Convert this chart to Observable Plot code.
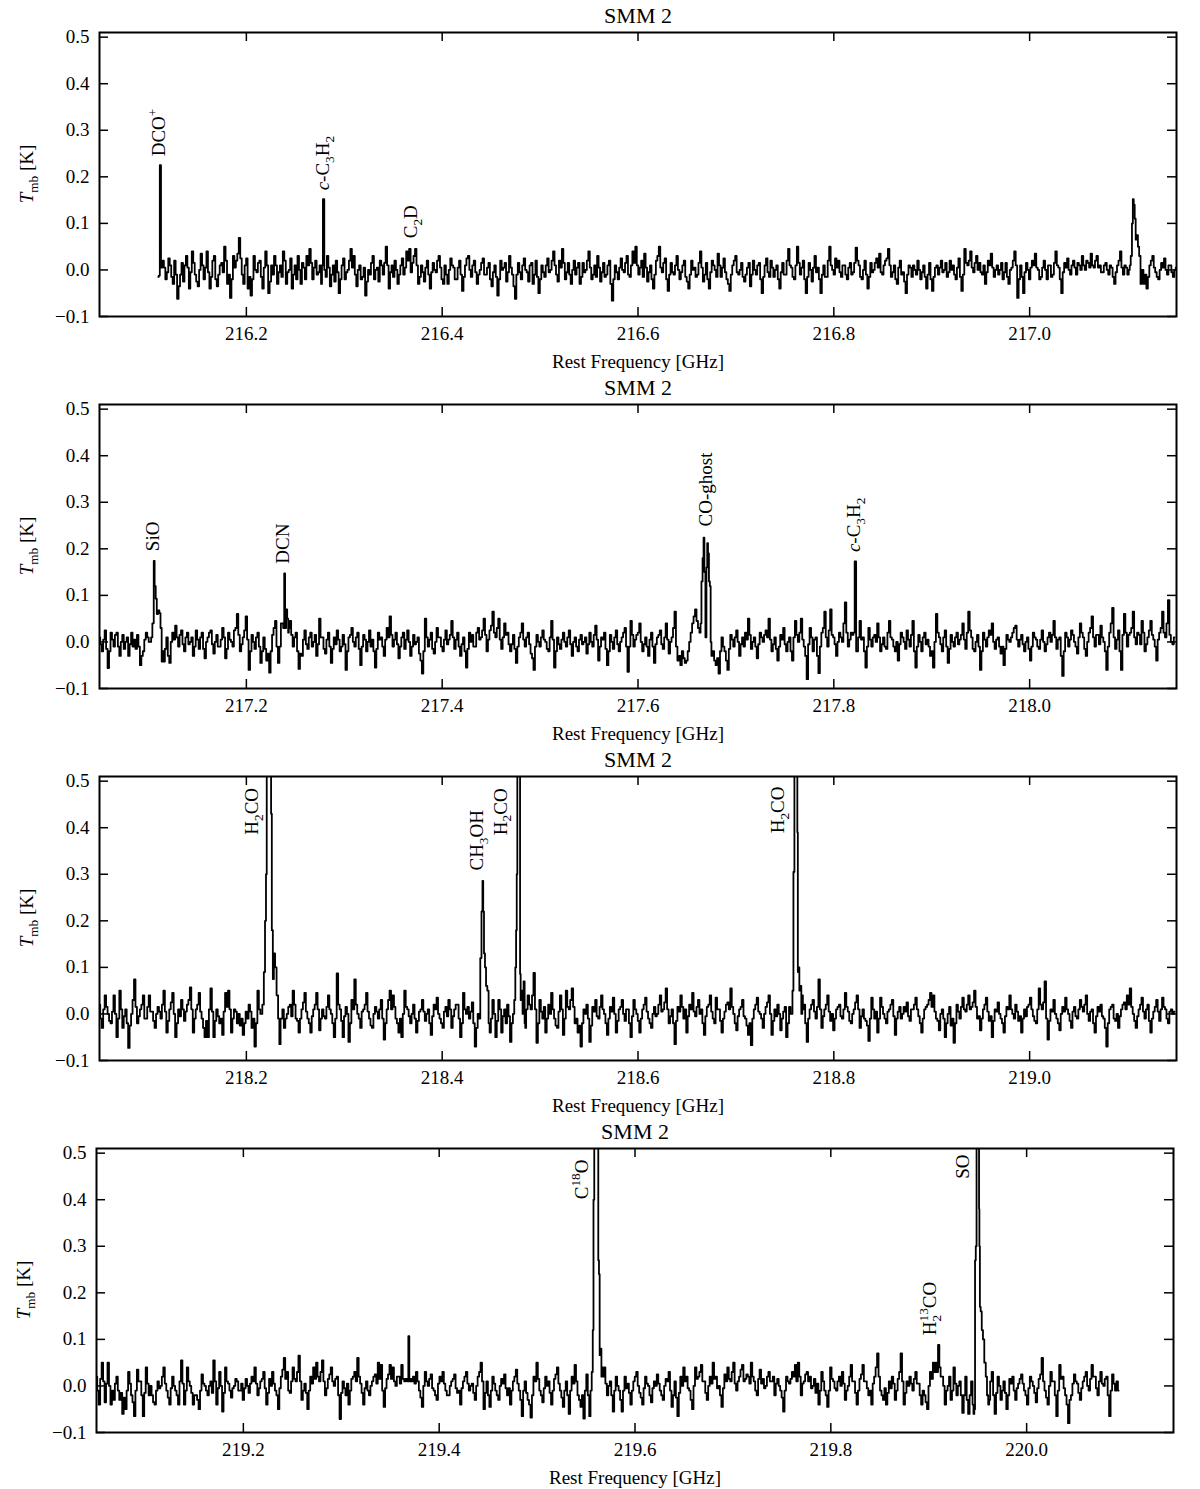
<!DOCTYPE html>
<html><head><meta charset="utf-8">
<script src="https://cdn.jsdelivr.net/npm/d3@7"></script>
<script src="https://cdn.jsdelivr.net/npm/@observablehq/plot@0.6"></script>
<style>body{margin:0;background:#fff}#chart svg{display:block}</style>
</head><body><div id="chart"></div>
<script>
// ---------------- data ----------------
const STEP = 0.0015; // channel width of the stored baseline spectrum [GHz]
const titleText = "SMM 2";
const xLabelText = "Rest Frequency [GHz]";
const yLabelText = "$T$_{mb} [K]";
const yTicks = [-0.1, 0.0, 0.1, 0.2, 0.3, 0.4, 0.5];

// Panel 1 (216.05 - 217.15 GHz)
const p1Domain = [216.05, 217.15];
const p1Ticks = [216.2, 216.4, 216.6, 216.8, 217.0];
const p1Start = 216.115;
const p1Values = [ // mK, one per channel
20,5,-20,-5,25,10,-15,-30,20,-10,-62,-35,-10,15,-25,10,30,5,-40,-5,
40,15,-10,-25,-35,0,35,10,-20,5,40,-5,-40,-15,20,30,-20,-35,-10,10,
15,-5,50,20,-30,-10,-60,-20,30,5,20,35,69,25,-10,-30,10,25,-40,-15,
-55,-20,30,0,-5,15,20,-15,-40,5,40,10,-50,-25,10,-10,30,10,-30,-5,
10,-15,40,20,-30,-5,0,25,-40,-10,10,-20,30,0,-30,15,5,-20,30,10,
45,15,-20,5,20,-10,-5,10,-30,-10,0,-15,30,5,-35,-10,10,-25,20,-5,
-50,-20,10,25,-20,-5,0,20,45,5,30,-10,-35,0,10,-20,-15,5,-55,-25,
0,-10,15,30,-20,0,5,-25,20,10,-10,15,50,10,-40,-5,10,-15,20,0,
-30,-10,10,25,-10,5,40,20,45,-5,15,30,45,10,-30,-15,10,-5,-25,5,
20,-10,-40,-5,15,0,-5,20,30,5,-20,-30,10,-10,-30,0,25,10,5,-20,
-20,5,20,-10,-45,-15,10,25,30,0,-15,10,20,-5,-30,-10,0,15,25,-10,
-10,5,15,-20,-35,-5,10,-15,-55,-20,20,0,5,15,-25,-5,30,5,-10,-35,
-62,-10,15,-5,-20,10,25,0,-5,-25,10,15,-30,-10,20,-15,-50,-20,10,-5,
-15,10,25,-5,0,20,40,10,-10,-25,20,5,45,15,-20,-5,15,-10,-30,0,
20,-10,5,15,-30,-15,15,-5,0,20,40,5,-20,-10,10,-15,30,5,-25,-5,
15,-15,-10,10,20,-30,-66,-20,10,-5,-20,5,25,0,-5,15,30,-10,-15,10,
40,15,50,10,-10,5,20,-15,35,5,-25,-5,10,-20,-40,-10,20,30,50,5,
-5,15,25,-20,-45,-10,15,-5,-10,10,30,0,-20,-5,10,20,-15,-25,-40,-10,
20,0,5,-15,-10,15,40,5,-25,-10,15,-20,-40,-5,20,10,0,-15,35,10,
-15,5,25,-5,-20,-30,-45,-10,10,20,30,-5,-10,0,15,-15,-25,-10,5,15,
-35,-10,20,0,-10,10,15,-20,-50,-15,10,25,-5,-15,20,5,-15,0,10,-20,
-40,-5,15,-10,-10,20,45,10,5,-15,-20,10,50,15,-10,5,20,-20,-50,-15,
15,0,-25,5,30,-5,5,-20,-50,-10,10,-15,-15,20,50,10,0,-10,25,5,
20,-5,-15,10,10,-10,-20,5,15,-10,-5,15,48,20,10,-15,-20,0,20,-10,
-40,-15,15,-5,0,15,25,5,35,-5,-10,10,20,25,45,10,-15,-5,10,-20,
-30,5,20,-10,-5,-25,-50,-10,10,5,-15,10,0,-10,20,0,-20,-5,10,-15,
-40,-10,15,-20,-45,-15,5,10,-10,5,20,-5,0,15,-15,-5,20,0,10,-10,
-20,5,25,-15,-45,-10,45,15,10,20,40,5,-5,15,30,0,15,-5,-10,10,
-30,-5,20,10,35,5,-15,0,10,-10,0,15,-20,-5,15,-15,-30,0,5,20,
40,10,-60,-20,10,-15,-50,-5,15,0,-20,5,20,10,35,5,0,-20,-15,5,
20,0,-20,10,10,-15,-10,15,40,10,5,-20,-50,-5,15,5,25,0,-10,10,
20,5,-10,15,10,0,30,10,0,20,15,5,35,10,5,20,30,5,10,-5,
-5,10,15,0,-10,10,5,-15,-30,-5,10,20,40,5,-10,10,5,-10,0,5,
0,0,0,0,0,0,0,0,-30,-10,-40,-15,10,20,30,5,-5,-15,-20,0,
15,5,25,0,-10,10,10,-5,-15,0,5];
const p1Lines = [ // resolved emission lines [GHz, K]
  [[216.1100,-0.015],[216.1110,-0.012],[216.1122,0.225],[216.1134,0.005]],
  [[216.2775,0.010],[216.2789,0.152],[216.2803,0.000]],
  [[217.1025,0.010],[217.1040,0.030],[217.1050,0.100],[217.1058,0.152],[217.1068,0.140],[217.1078,0.110],[217.1088,0.065],[217.1100,0.075],[217.1112,0.050],[217.1125,0.030],[217.1140,-0.030],[217.1150,0.000]]
];
const p1LabelText = ["DCO^+", "$c$-C_3H_2", "C_2D"];
const p1LabelFreq = [216.1102, 216.2781, 216.3684];
const p1LabelT = [0.244, 0.171, 0.068];

// Panel 2 (217.05 - 218.15 GHz)
const p2Domain = [217.05, 218.15];
const p2Ticks = [217.2, 217.4, 217.6, 217.8, 218.0];
const p2Start = 217.05;
const p2Values = [
10,-5,-20,5,25,-15,-56,-20,20,5,-10,15,20,-10,-30,0,15,-15,0,10,
-30,-5,20,-10,5,-15,15,-10,-50,-30,-20,5,20,10,0,0,0,0,0,0,
0,0,0,-30,-42,-15,10,-30,-45,0,20,5,35,10,-10,15,25,-5,-20,10,
20,-5,0,10,-30,-10,25,5,-15,10,20,-15,-35,0,10,20,25,-5,-25,0,
15,-10,-10,5,30,10,-35,-15,20,5,0,-10,25,30,60,15,-20,-5,10,25,
55,5,-60,-20,15,0,-15,10,20,-10,-45,-20,10,-15,-40,-25,-66,-20,15,30,
45,-10,-45,-10,40,30,0,0,0,30,45,15,-10,10,20,-20,-58,-25,-30,5,
25,-5,-15,10,20,-10,0,15,-30,-5,50,10,10,-15,-25,5,20,-10,-45,-15,
10,-5,25,5,-20,-10,15,-5,-60,-20,10,15,30,0,-10,10,20,-15,-50,-10,
15,5,-20,0,25,-10,5,-20,-55,-15,20,5,10,-10,-30,5,30,10,55,15,
-10,5,20,-5,-35,-10,10,20,-15,5,25,0,-30,-10,15,-5,0,10,-25,-40,
-68,-20,50,10,-10,5,20,-15,-25,0,30,10,10,-10,-20,5,25,-5,5,15,
45,10,-15,5,20,-10,-30,-5,10,-20,-55,-15,20,0,15,-10,-10,20,30,5,
10,25,50,15,-20,5,25,35,65,20,10,30,50,5,-15,10,40,15,20,-5,
-20,-5,15,-15,-45,-10,10,20,40,5,-10,10,20,-5,-25,-35,-60,-10,15,0,
-10,10,25,5,0,-15,-20,10,45,5,-55,-20,10,-5,-15,5,20,0,-10,10,
25,-5,-30,0,10,-10,-20,5,15,-5,0,10,-25,-5,20,0,-10,15,35,5,
-40,-10,10,5,20,-15,-50,-20,15,0,-15,10,25,-5,-20,0,10,20,30,-10,
-64,-10,45,15,-10,5,15,20,40,0,-20,-5,10,-10,-30,5,20,-10,-45,-5,
10,15,25,-5,-15,10,40,5,-25,0,10,30,65,-10,-40,-30,-50,-20,-35,-45,
-40,-20,0,20,40,55,70,45,30,20,0,0,0,0,0,0,0,-30,-20,-40,
-50,-35,-68,-20,10,-10,-20,-40,-60,-15,15,5,-10,10,25,0,-30,-5,10,-10,
20,5,50,15,-15,0,10,-10,-35,-5,20,10,0,15,25,10,50,5,-20,-5,
10,-15,-40,-10,15,5,30,-5,-20,0,10,-20,-40,10,45,15,0,20,50,5,
-10,-30,-80,-5,30,10,-20,5,10,-30,-67,-10,20,30,65,10,-10,25,70,15,
10,-5,-30,0,20,10,0,40,85,20,-10,5,20,15,0,0,-20,10,45,5,
10,-20,-55,-10,30,5,-10,10,15,0,40,10,-20,-5,10,-10,-15,20,45,10,
5,-10,-20,0,-40,-5,20,10,0,-15,25,5,-10,15,45,-20,-55,-10,15,0,
-20,10,20,-5,5,-10,-30,-20,-55,0,60,20,10,-5,-20,10,25,-10,-45,-15,
15,0,-10,10,20,-5,5,15,40,5,-15,20,65,25,10,-15,-20,0,15,-10,
-60,-20,20,5,-10,10,25,15,40,0,-15,5,10,-10,-25,-10,-50,-15,15,5,
0,10,20,30,35,5,-10,5,15,-5,-20,0,10,-15,-40,-10,20,10,5,-10,
-15,5,25,0,-20,-5,10,20,0,15,45,10,-15,5,10,-30,-73,-20,20,10,
-10,5,25,15,0,-10,-25,10,40,20,10,-15,-30,0,20,30,55,10,-10,15,
15,-5,35,10,0,-20,-60,-10,20,40,73,10,-15,5,25,-20,-60,15,60,20,
-10,15,20,30,65,10,-5,20,15,-5,45,20,-20,-5,10,25,45,15,5,-10,
-40,5,20,30,65,20,10,40,90,15,0,-5,10];
const p2Lines = [
  [[217.1030,0.010],[217.1050,0.040],[217.1058,0.174],[217.1068,0.120],[217.1080,0.093],[217.1090,0.060],[217.1105,0.068],[217.1118,0.062],[217.1128,0.030],[217.1142,-0.042],[217.1155,-0.020]],
  [[217.2370,0.040],[217.2382,0.030],[217.2391,0.147],[217.2400,0.030],[217.2412,0.070],[217.2422,0.050],[217.2432,0.020]],
  [[217.6643,0.040],[217.6653,0.130],[217.6666,0.180],[217.6673,0.224],[217.6683,0.150],[217.6694,0.010],[217.6704,0.160],[217.6710,0.212],[217.6720,0.190],[217.6729,0.130],[217.6739,0.120],[217.6745,0.000]],
  [[217.8205,0.020],[217.8221,0.173],[217.8235,-0.020]]
];
const p2LabelText = ["SiO", "DCN", "CO-ghost", "$c$-C_3H_2"];
const p2LabelFreq = [217.1041, 217.2372, 217.6694, 217.8204];
const p2LabelT = [0.195, 0.168, 0.248, 0.193];

// Panel 3 (218.05 - 219.15 GHz)
const p3Domain = [218.05, 219.15];
const p3Ticks = [218.2, 218.4, 218.6, 218.8, 219.0];
const p3Start = 218.05;
const p3Values = [
20,-10,-30,10,40,15,0,-15,-20,5,40,0,-50,-10,50,10,-30,-5,10,-20,
-73,-25,0,30,74,15,-20,-5,10,20,40,-10,-10,15,40,5,5,-15,-30,0,
15,5,-10,20,50,5,-40,-15,10,25,45,0,-50,-20,10,-5,30,10,-15,5,
20,30,57,10,-40,-10,10,20,45,5,-10,-30,-50,-15,-50,10,55,5,-50,-15,
10,-5,-20,-10,-45,5,45,15,50,10,-40,-10,10,5,-20,0,-25,-10,-45,-20,
5,-10,20,5,-30,-10,-70,-20,50,10,0,0,0,0,0,0,0,0,0,0,
0,0,0,0,-10,10,-30,-10,0,15,20,-5,50,20,-10,-15,-40,-10,10,25,
45,5,-10,-20,-40,-5,10,20,45,10,-35,-10,10,-5,-10,15,40,10,0,-20,
-50,-10,87,20,10,-15,-50,-5,15,0,-60,-20,30,10,74,20,0,-10,-30,5,
10,20,45,5,-10,-25,-30,0,15,5,-10,10,30,-10,-55,-20,10,30,50,10,
40,15,-10,-20,-40,-10,-50,0,50,15,10,-5,-20,0,20,-10,-40,-15,5,10,
30,5,-15,0,10,-20,-45,-5,20,10,35,0,-10,-20,-30,5,15,-5,30,10,
-30,-5,10,20,20,-10,-50,-20,45,10,0,15,-10,5,25,-20,-70,-30,0,0,
0,0,0,0,0,0,-40,-10,30,0,-50,-15,30,10,-40,-5,10,-20,20,-5,
-60,-20,0,0,0,0,0,0,0,0,-30,10,40,20,10,40,88,10,-62,-20,
30,5,-10,15,-40,-10,20,0,45,10,-10,-25,-30,5,40,10,-45,-10,50,15,
10,30,55,15,-20,-10,-40,-25,-70,-20,10,0,20,-10,-60,-25,15,5,30,-5,
-10,15,40,10,0,-20,-45,-10,15,5,35,0,-40,-15,10,15,30,0,-15,10,
10,-20,-50,-5,30,10,0,-15,-40,-10,10,20,35,5,-10,-20,-30,0,15,-5,
0,20,40,5,10,25,55,10,-20,-5,10,-20,-65,-15,15,5,40,15,-10,10,
-40,-5,20,10,45,5,-5,15,30,0,10,-20,-45,-5,15,20,40,5,-10,-20,
35,10,10,-15,-40,-10,5,20,25,10,55,15,0,-20,-35,-5,10,15,30,-5,
-10,-25,-45,-20,-67,-10,10,20,35,5,0,-10,-30,0,15,25,40,0,-45,-15,
10,-5,20,0,-35,-10,5,15,-50,-20,15,0,0,0,0,0,0,0,0,10,
20,-20,-60,-10,10,20,30,5,-10,15,74,10,-30,-5,10,20,40,5,-15,0,
-35,-10,10,15,20,-5,-10,10,45,15,5,-15,-20,0,10,25,40,10,-30,-5,
10,-10,-15,-25,-58,-10,35,10,-10,5,-40,-10,35,15,0,-10,-20,5,10,20,
30,-5,-45,-10,5,15,-10,0,15,5,25,-5,-15,10,10,20,35,10,-5,-20,
-40,-10,10,15,20,30,45,15,40,5,-10,-15,-35,0,10,-10,-50,-20,0,15,
-25,-10,-62,-20,20,5,-10,15,35,10,5,20,40,10,15,25,50,15,-10,-5,
-35,-10,10,20,35,5,-15,-5,-50,-15,10,5,25,0,-10,-20,-40,-5,15,10,
40,10,0,-10,20,5,-15,-5,-40,-10,10,-5,15,20,35,10,-5,-15,-20,10,
55,20,10,25,70,-10,-55,-15,10,5,30,0,-10,-20,-35,0,15,5,35,10,
0,-15,-30,5,15,-5,-10,10,30,15,5,20,40,0,-15,5,10,-20,-40,-5,
15,5,20,-5,-10,-30,-70,-20,10,15,20,-10,-15,0,-30,-5,10,20,25,10,
40,20,55,15,0,-15,-30,-5,10,20,35,5,-10,10,20,-15,-40,-10,5,15,
30,5,-15,10,35,15,10,-10,-20,5,10,0,5];
const p3Lines = [
  [[218.2153,0.000],[218.2173,0.020],[218.2184,0.090],[218.2197,0.200],[218.2204,0.300],[218.2212,0.650],[218.2224,0.900],[218.2240,0.850],[218.2250,0.600],[218.2255,0.430],[218.2265,0.180],[218.2276,0.075],[218.2286,0.130],[218.2301,0.100],[218.2316,0.040],[218.2332,-0.010],[218.2342,-0.065],[218.2357,-0.010]],
  [[218.4383,-0.010],[218.4395,0.120],[218.4408,0.220],[218.4415,0.286],[218.4423,0.220],[218.4431,0.130],[218.4443,0.100],[218.4453,0.060],[218.4469,0.050],[218.4479,-0.020]],
  [[218.4730,0.000],[218.4742,0.030],[218.4752,0.100],[218.4758,0.180],[218.4765,0.300],[218.4770,0.600],[218.4778,1.200],[218.4787,0.800],[218.4793,0.550],[218.4798,0.086],[218.4805,0.030],[218.4816,0.050],[218.4826,0.000],[218.4837,0.070],[218.4847,-0.020]],
  [[218.7571,0.000],[218.7584,0.050],[218.7591,0.305],[218.7604,0.800],[218.7617,1.100],[218.7625,0.900],[218.7630,0.390],[218.7635,0.090],[218.7643,0.100],[218.7653,0.050],[218.7663,0.060],[218.7673,0.000],[218.7683,0.040]]
];
const p3LabelText = ["H_2CO", "CH_3OH", "H_2CO", "H_2CO"];
const p3LabelFreq = [218.2058, 218.4354, 218.4597, 218.7434];
const p3LabelT = [0.385, 0.308, 0.384, 0.388];

// Panel 4 (219.05 - 220.15 GHz)
const p4Domain = [219.05, 220.15];
const p4Ticks = [219.2, 219.4, 219.6, 219.8, 220.0];
const p4Start = 219.05;
const p4Values = [
20,-10,-40,15,50,10,-35,5,50,0,-40,-10,-30,5,20,-10,-30,-15,-60,-25,
-50,-10,30,5,-20,-35,-65,-10,35,10,10,-20,-65,-15,40,5,-20,0,-20,-35,
-40,-10,10,-5,0,20,40,5,-10,-25,-40,-5,20,0,-10,-20,-40,10,55,5,
-40,-10,40,10,0,-15,-40,-20,-20,-30,-50,-10,25,5,0,-10,-20,0,10,-15,
55,10,-40,-5,30,0,-55,-15,40,10,5,-10,-25,-5,0,15,10,-10,-10,5,
-30,-5,15,0,-15,5,20,10,40,5,-20,-5,10,15,30,-5,-40,-15,15,0,
30,5,-10,-20,-50,-5,20,35,60,15,30,-10,-15,10,40,15,10,30,65,10,
-30,-10,5,-15,-50,-10,20,5,40,15,50,20,10,30,55,10,-20,-5,15,25,
40,10,0,15,20,-20,-71,-15,10,-5,-20,5,-40,-10,15,20,30,10,60,20,
5,-15,-40,-5,10,-10,-20,0,10,20,25,5,50,15,45,-10,-45,-5,15,25,
45,15,40,10,0,20,20,5,45,15,10,15,0,0,15,10,20,5,30,10,
-10,-25,-45,0,30,10,0,15,25,-5,-10,-20,-30,5,20,10,30,5,-10,-20,
-20,0,10,15,25,-5,-15,-10,-40,-5,10,20,30,5,-10,0,5,-15,-30,0,
20,30,50,10,-50,-15,10,-20,-45,-10,20,5,-10,-20,-30,0,15,5,25,-5,
-20,-5,-40,-10,10,20,35,5,-10,-30,-65,-10,10,-15,-30,-40,-68,-20,20,10,
50,15,-10,-20,-35,-5,20,0,10,-15,-40,-10,15,25,40,5,-10,-25,-45,-10,
10,-20,-60,-10,20,5,45,10,-20,-30,-45,-20,-70,-10,25,-20,-65,0,0,0,
0,0,0,0,0,20,40,5,-20,0,10,-20,-55,-10,20,0,-10,-30,-55,-10,
20,-5,5,-15,-40,-10,10,20,30,0,-15,-25,-40,-5,20,5,0,-20,-35,-5,
10,0,25,5,-10,-20,-30,0,15,10,30,-10,-45,-20,10,-25,-65,-15,20,0,
40,10,20,-5,-10,-30,-50,0,40,15,20,30,45,10,10,-15,-30,0,20,5,
50,15,20,-5,0,-20,-45,-5,25,10,40,15,10,30,50,5,-10,10,20,35,
45,10,15,25,20,5,50,20,10,-10,-20,15,35,5,15,-5,0,20,30,10,
10,20,-20,5,15,0,-10,-25,-55,-10,20,10,5,15,30,20,45,10,50,20,
-20,5,10,25,30,10,20,-5,0,15,-15,5,-40,-10,30,10,-10,-20,-45,-10,
40,15,10,-5,-10,10,20,0,30,5,-30,-10,0,20,45,10,10,-15,-40,-10,
15,25,45,10,10,-5,-20,-10,-40,5,20,40,70,20,-10,-20,-30,-5,-40,-15,
10,-5,20,5,-30,-10,15,30,70,10,-40,-15,10,0,20,5,-10,15,30,5,
5,-20,-40,-10,-20,-35,-50,0,30,15,50,30,0,0,0,0,20,0,-40,-10,
0,20,-30,-10,40,5,-20,0,10,-20,-58,-20,20,-30,-60,-20,10,-40,0,0,
0,0,0,0,0,0,0,0,-30,10,30,-20,-60,-15,20,0,-30,-10,10,-15,
-50,-20,15,5,20,-10,-30,-5,5,15,25,5,-10,-20,-40,-5,20,10,0,-15,
-35,-5,15,25,60,10,-10,-25,-40,0,30,10,10,-20,-65,-10,45,15,20,-5,
-20,-40,-80,-30,-20,5,25,10,5,-15,-30,-5,10,20,30,0,-10,15,45,20,
20,-5,-20,10,30,5,0,15,20,-20,-65,-10,25,5,-10,10,-10];
const p4Lines = [
  [[219.3680,0.010],[219.3690,0.107],[219.3700,0.010]],
  [[219.5551,-0.010],[219.5565,0.030],[219.5572,0.120],[219.5580,0.400],[219.5588,0.800],[219.5602,1.300],[219.5614,1.000],[219.5622,0.600],[219.5628,0.270],[219.5636,0.240],[219.5642,0.066],[219.5652,0.080],[219.5662,0.020],[219.5672,0.040]],
  [[219.9075,0.050],[219.9088,0.030],[219.9102,0.088],[219.9115,0.040],[219.9128,0.020]],
  [[219.9459,-0.060],[219.9472,-0.050],[219.9474,0.270],[219.9487,0.300],[219.9490,0.900],[219.9503,1.500],[219.9512,0.800],[219.9516,0.380],[219.9519,0.300],[219.9526,0.170],[219.9535,0.160],[219.9548,0.120],[219.9560,0.100],[219.9575,0.050],[219.9590,0.020],[219.9600,-0.020],[219.9615,-0.040]]
];
const p4LabelText = ["C^{18}O", "H_2^{13}CO", "SO"];
const p4LabelFreq = [219.5459, 219.9016, 219.9352];
const p4LabelT = [0.401, 0.109, 0.445];

// ---------------- build ----------------
function buildSpectrum(start, values, lines) {
  const spans = lines.map(l => [l[0][0], l[l.length - 1][0]]);
  const base = values.map((v, i) => ({f: +(start + i * STEP).toFixed(4), T: v / 1000}))
    .filter(d => !spans.some(([a, b]) => d.f >= a && d.f <= b));
  const pts = lines.flatMap(l => l.map(([f, T]) => ({f, T})));
  return base.concat(pts).sort((a, b) => a.f - b.f);
}

const SVGNS = "http://www.w3.org/2000/svg";
function richify(el, markup, size) {
  el.textContent = "";
  let cur = 0, italic = false, i = 0, lastSubW = 0, prevSub = false, buf = "";
  const small = 0.7 * size, SUB = 0.25 * size, SUP = -0.42 * size;
  const add = (txt, off, fs, dx) => {
    const t = document.createElementNS(SVGNS, "tspan");
    t.textContent = txt;
    if (off !== cur) { t.setAttribute("dy", (off - cur).toFixed(2)); cur = off; }
    if (fs) t.setAttribute("font-size", fs);
    if (dx) t.setAttribute("dx", dx.toFixed(2));
    if (italic) t.setAttribute("font-style", "italic");
    el.appendChild(t);
  };
  const flush = () => { if (buf) { add(buf, 0); buf = ""; prevSub = false; } };
  while (i < markup.length) {
    const c = markup[i];
    if (c === "$") { flush(); italic = !italic; i++; continue; }
    if (c === "_" || c === "^") {
      flush();
      let g;
      if (markup[i + 1] === "{") { const j = markup.indexOf("}", i); g = markup.slice(i + 2, j); i = j + 1; }
      else { g = markup[i + 1]; i += 2; }
      if (c === "_") { add(g, SUB, small); lastSubW = g.length * 0.5 * small; prevSub = true; }
      else { add(g, SUP, small, prevSub ? -lastSubW : 0); prevSub = false; }
      continue;
    }
    buf += c; i++;
  }
  flush();
}

const panels = [
  {domain: p1Domain, ticks: p1Ticks, start: p1Start, values: p1Values, lines: p1Lines, lt: p1LabelText, lf: p1LabelFreq, lT: p1LabelT, ml: 99, mr: 24, ylx: 27},
  {domain: p2Domain, ticks: p2Ticks, start: p2Start, values: p2Values, lines: p2Lines, lt: p2LabelText, lf: p2LabelFreq, lT: p2LabelT, ml: 99, mr: 24, ylx: 27},
  {domain: p3Domain, ticks: p3Ticks, start: p3Start, values: p3Values, lines: p3Lines, lt: p3LabelText, lf: p3LabelFreq, lT: p3LabelT, ml: 99, mr: 24, ylx: 27},
  {domain: p4Domain, ticks: p4Ticks, start: p4Start, values: p4Values, lines: p4Lines, lt: p4LabelText, lf: p4LabelFreq, lT: p4LabelT, ml: 96, mr: 27, ylx: 24}
];

const W = 1200, H = 372, MT = 32, MB = 56, FH = H - MT - MB, TL = 9, FS = 19;
const fmt = d3.format(".1f");
const chart = document.getElementById("chart");

for (const p of panels) {
  const FW = W - p.ml - p.mr;
  const data = buildSpectrum(p.start, p.values, p.lines);
  const labels = p.lt.map((t, i) => ({t, f: p.lf[i], T: p.lT[i]}));
  const svg = Plot.plot({
    width: W, height: H, marginLeft: p.ml, marginRight: p.mr, marginTop: MT, marginBottom: MB,
    style: {fontFamily: "'Liberation Serif', serif", fontSize: FS + "px", background: "#fff", color: "#000"},
    x: {domain: p.domain},
    y: {domain: [-0.1, 0.51]},
    marks: [
      Plot.line(data, {x: "f", y: "T", stroke: "#000", strokeWidth: 1.8, curve: "step", clip: true}),
      Plot.tickX(p.ticks, {x: d => d, insetTop: FH - TL, stroke: "#000", strokeWidth: 1.5}),
      Plot.tickX(p.ticks, {x: d => d, insetBottom: FH - TL, stroke: "#000", strokeWidth: 1.5}),
      Plot.tickY(yTicks, {y: d => d, insetRight: FW - TL, stroke: "#000", strokeWidth: 1.5}),
      Plot.tickY(yTicks, {y: d => d, insetLeft: FW - TL, stroke: "#000", strokeWidth: 1.5}),
      Plot.axisX(p.ticks, {tickSize: 0, tickPadding: 10, tickFormat: fmt, label: null, fontSize: FS}),
      Plot.axisY(yTicks, {tickSize: 0, tickPadding: 10, tickFormat: fmt, label: null, fontSize: FS}),
      Plot.frame({stroke: "#000", strokeWidth: 2}),
      Plot.text(labels, {x: "f", y: "T", text: "t", rotate: -90, textAnchor: "start", lineAnchor: "middle", fontSize: FS, fill: "#000"}),
      Plot.text([titleText], {frameAnchor: "top", text: d => d, dy: -17, lineAnchor: "middle", fontSize: 22, fill: "#000"}),
      Plot.text([xLabelText], {frameAnchor: "bottom", text: d => d, dy: 45, lineAnchor: "middle", fontSize: FS, fill: "#000"})
    ]
  });
  // rich text (sub/superscripts, italics) for the line labels
  Array.from(svg.querySelectorAll("text"))
    .filter(el => el.textContent && p.lt.includes(el.textContent))
    .forEach(el => richify(el, el.textContent, FS));
  // y-axis label
  const yl = d3.select(svg).append("text")
    .attr("transform", `translate(${p.ylx},${MT + FH / 2}) rotate(-90)`)
    .attr("text-anchor", "middle").attr("dy", "0.32em")
    .attr("font-size", FS).attr("fill", "#000");
  richify(yl.node(), yLabelText, FS);
  chart.appendChild(svg);
}
</script>
</body></html>
